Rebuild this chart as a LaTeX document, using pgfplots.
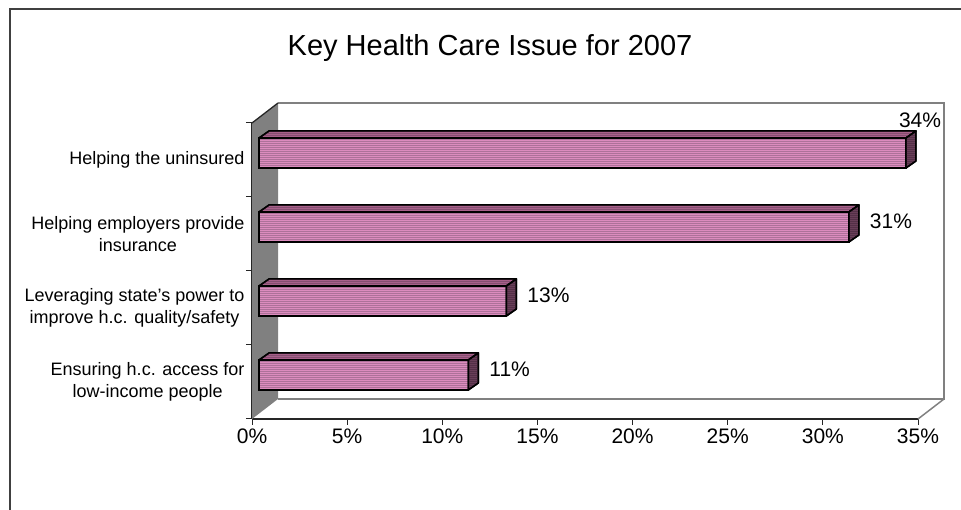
\documentclass[border=0pt]{standalone}
\usepackage{fontspec}
\setmainfont{Liberation Sans}
\usepackage{pgfplots}
\pgfplotsset{compat=1.18}
\usetikzlibrary{patterns}
\definecolor{pinkL}{RGB}{220,140,190}
\definecolor{pinkD}{RGB}{148,100,134}
\definecolor{topL}{RGB}{168,96,138}
\definecolor{topD}{RGB}{115,70,100}
\definecolor{sideL}{RGB}{105,62,88}
\definecolor{sideD}{RGB}{72,42,62}
\definecolor{wallgray}{RGB}{128,128,128}
\definecolor{framegray}{RGB}{64,64,64}
\pgfdeclarepatternformonly{hstripes}{\pgfpointorigin}{\pgfpoint{1200bp}{2bp}}{\pgfpoint{1200bp}{2bp}}{%
  \pgfpathrectangle{\pgfpointorigin}{\pgfpoint{1200bp}{1bp}}\pgfusepath{fill}}
\begin{document}
\begin{tikzpicture}
\useasboundingbox (0,0) rectangle (961bp,510bp);
\draw[framegray, line width=2bp] (10bp,0) -- (10bp,501bp) -- (961bp,501bp);
\node[font=\fontsize{29bp}{33bp}\selectfont] at (490bp,462bp) {Key Health Care Issue for 2007};
\begin{axis}[
  at={(252bp,91bp)}, anchor=south west,
  scale only axis, width=666bp, height=296bp,
  xmin=0, xmax=35, ymin=-0.5, ymax=3.5,
  clip=false,
  axis x line*=bottom, axis y line*=left,
  axis line style={draw=black!85, line width=1.3bp},
  tick align=outside, major tick length=6bp,
  tick style={black!85, line width=1bp},
  xtick={0,5,...,35},
  xticklabel={\pgfmathprintnumber{\tick}\%},
  /pgf/number format/assume math mode=true,
  ticklabel style={font=\fontsize{21bp}{25bp}\selectfont},
  ytick={-0.5,0.5,1.5,2.5,3.5}, yticklabels={,,,,},
  extra y ticks={0,1,2,3},
  extra y tick labels={{Ensuring h.c. access for\\low-income people},{Leveraging state's power to\\improve h.c. quality/safety},{Helping employers provide\\insurance},{Helping the uninsured}},
  extra y tick style={major tick length=0pt, yticklabel style={font=\fontsize{18bp}{22bp}\selectfont, align=center, xshift=-4bp}},
]
% walls
\fill[wallgray] (rel axis cs:0,0) -- (rel axis cs:0,1) -- ([shift={(26bp,20bp)}]rel axis cs:0,1) -- ([shift={(26bp,20bp)}]rel axis cs:0,0) -- cycle;
\draw[wallgray, line width=1.5bp] ([shift={(26bp,20bp)}]rel axis cs:0,0) -- ([shift={(26bp,20bp)}]rel axis cs:1,0) -- ([shift={(26bp,20bp)}]rel axis cs:1,1) -- ([shift={(26bp,20bp)}]rel axis cs:0,1);
\draw[wallgray, line width=1.5bp] (rel axis cs:1,0) -- ([shift={(26bp,20bp)}]rel axis cs:1,0);
\draw[black!85, line width=1.3bp] (rel axis cs:0,1) -- ([shift={(26bp,20bp)}]rel axis cs:0,1);

% front faces
\addplot[xbar, bar shift=0pt, bar width=30bp, xshift=7bp, yshift=7bp, draw=black, line width=1.5bp,
  preaction={fill=pinkL}, pattern=hstripes, pattern color=pinkD,
  point meta=x, nodes near coords={\pgfmathprintnumber{\pgfplotspointmeta}\%},
  nodes near coords style={font=\fontsize{21bp}{25bp}\selectfont, anchor=west, xshift=17bp, yshift=6bp, text=black}]
  coordinates {(11,0) (13,1) (31,2)};
\addplot[xbar, bar shift=0pt, bar width=30bp, xshift=7bp, yshift=7bp, draw=black, line width=1.5bp,
  preaction={fill=pinkL}, pattern=hstripes, pattern color=pinkD,
  point meta=x, nodes near coords={\pgfmathprintnumber{\pgfplotspointmeta}\%},
  nodes near coords style={font=\fontsize{21bp}{25bp}\selectfont, anchor=west, xshift=-11bp, yshift=33bp, text=black}]
  coordinates {(34,3)};

% top faces
\addplot[xshift=7bp, yshift=7bp, draw=black, line width=1.5bp, line join=round, mark=none, preaction={fill=topL}, pattern=hstripes, pattern color=topD]
  coordinates {(0,3.2027) (34,3.2027) (34.5255,3.2973) (0.5255,3.2973) (0,3.2027)};
\addplot[xshift=7bp, yshift=7bp, draw=black, line width=1.5bp, line join=round, mark=none, preaction={fill=topL}, pattern=hstripes, pattern color=topD]
  coordinates {(0,2.2027) (31,2.2027) (31.5255,2.2973) (0.5255,2.2973) (0,2.2027)};
\addplot[xshift=7bp, yshift=7bp, draw=black, line width=1.5bp, line join=round, mark=none, preaction={fill=topL}, pattern=hstripes, pattern color=topD]
  coordinates {(0,1.2027) (13,1.2027) (13.5255,1.2973) (0.5255,1.2973) (0,1.2027)};
\addplot[xshift=7bp, yshift=7bp, draw=black, line width=1.5bp, line join=round, mark=none, preaction={fill=topL}, pattern=hstripes, pattern color=topD]
  coordinates {(0,0.2027) (11,0.2027) (11.5255,0.2973) (0.5255,0.2973) (0,0.2027)};
% side faces
\addplot[xshift=7bp, yshift=7bp, draw=black, line width=1.5bp, line join=round, mark=none, preaction={fill=sideL}, pattern=hstripes, pattern color=sideD]
  coordinates {(34,2.7973) (34,3.2027) (34.5255,3.2973) (34.5255,2.8919) (34,2.7973)};
\addplot[xshift=7bp, yshift=7bp, draw=black, line width=1.5bp, line join=round, mark=none, preaction={fill=sideL}, pattern=hstripes, pattern color=sideD]
  coordinates {(31,1.7973) (31,2.2027) (31.5255,2.2973) (31.5255,1.8919) (31,1.7973)};
\addplot[xshift=7bp, yshift=7bp, draw=black, line width=1.5bp, line join=round, mark=none, preaction={fill=sideL}, pattern=hstripes, pattern color=sideD]
  coordinates {(13,0.7973) (13,1.2027) (13.5255,1.2973) (13.5255,0.8919) (13,0.7973)};
\addplot[xshift=7bp, yshift=7bp, draw=black, line width=1.5bp, line join=round, mark=none, preaction={fill=sideL}, pattern=hstripes, pattern color=sideD]
  coordinates {(11,-0.2027) (11,0.2027) (11.5255,0.2973) (11.5255,-0.1081) (11,-0.2027)};
\end{axis}
\end{tikzpicture}
\end{document}
